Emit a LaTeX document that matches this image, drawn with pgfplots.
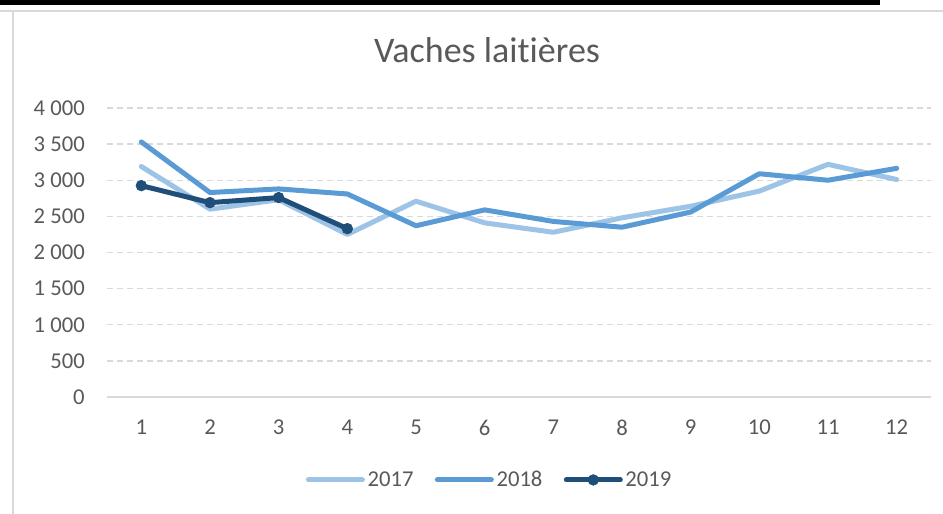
\documentclass[border=0pt]{standalone}
\usepackage{pgfplots}
\pgfplotsset{compat=1.18}
\usepackage{fontspec}
\setmainfont{Carlito}[Ligatures=NoCommon]
\definecolor{cA}{HTML}{9DC3E6}
\definecolor{cB}{HTML}{5B9BD5}
\definecolor{cC}{HTML}{1F4E79}
\definecolor{txt}{HTML}{595959}
\definecolor{grd}{HTML}{D9D9D9}
\begin{document}
\begin{tikzpicture}[x=0.75pt,y=0.75pt]
\path[use as bounding box] (0,0) rectangle (943,514);
\fill[black] (0,509) rectangle (880,514);
\fill[grd] (0,501.5) rectangle (943,504);
\fill[grd] (11.5,0) rectangle (14,501.5);
\node[anchor=base, font=\fontsize{27}{32}\selectfont, text=txt] at (487,451) {Vaches lait\kern0pt ières};
\begin{axis}[
  at={(80.25pt,87.75pt)}, anchor=south west,
  scale only axis, width=618pt, height=216.75pt,
  xmin=0.5, xmax=12.5, ymin=0, ymax=4000,
  xtick={1,...,12}, ytick={0,500,...,4000},
  axis x line*=bottom, axis y line*=left,
  y axis line style={draw=none},
  x axis line style={draw=grd, line width=1pt},
  tick style={draw=none}, major tick length=0pt,
  ymajorgrids, grid style={draw=grd, line width=1pt, dash pattern=on 4.5pt off 3pt},
  /pgf/number format/assume math mode=true,
  /pgf/number format/1000 sep={\ },
  tick label style={font=\fontsize{17}{20}\selectfont, text=txt},
  xticklabel style={anchor=north, inner sep=0pt, yshift=-17.25pt},
  yticklabel style={anchor=east, inner sep=0pt, xshift=-16.5pt},
  legend style={at={(0.4648,-0.287)}, anchor=center, draw=none, fill=none,
    font=\fontsize{17}{20}\selectfont, text=txt, legend columns=3,
    /tikz/every even column/.append style={column sep=14pt}},
  legend cell align=left,
  legend image code/.code={\draw[mark repeat=2,mark phase=2,#1] plot coordinates {(0pt,0pt) (20.25pt,0pt) (40.5pt,0pt)};},
  every axis plot/.append style={line width=3.75pt, line join=round, line cap=round},
]
\addplot[cA] coordinates {(1,3190)(2,2600)(3,2730)(4,2250)(5,2710)(6,2410)(7,2280)(8,2480)(9,2640)(10,2850)(11,3220)(12,3010)};
\addlegendentry{2017}
\addplot[cB] coordinates {(1,3530)(2,2830)(3,2880)(4,2810)(5,2370)(6,2590)(7,2430)(8,2350)(9,2560)(10,3090)(11,3000)(12,3165)};
\addlegendentry{2018}
\addplot[cC, mark=*, mark options={solid, fill=cC, draw=cC, line width=0.5pt}, mark size=4pt] coordinates {(1,2925)(2,2690)(3,2760)(4,2330)};
\addlegendentry{2019}
\end{axis}
\end{tikzpicture}
\end{document}
